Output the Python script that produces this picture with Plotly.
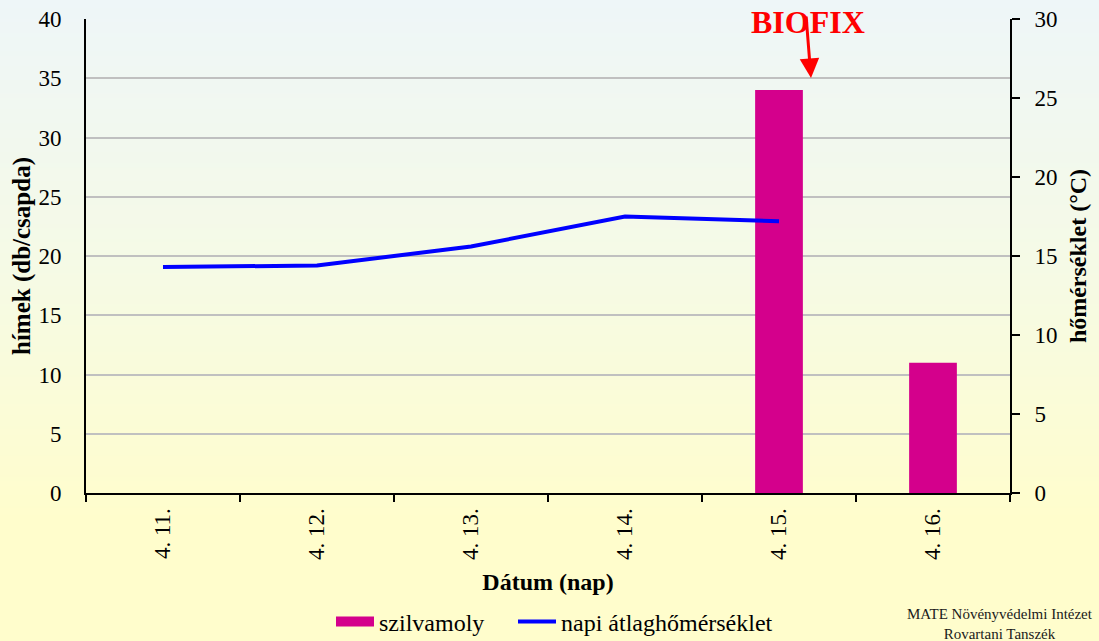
import base64
import struct
import zlib

import plotly.graph_objects as go

# Daily trap data
dates = ["4. 11.", "4. 12.", "4. 13.", "4. 14.", "4. 15.", "4. 16."]
moth_counts = [0, 0, 0, 0, 34, 11]
temp_dates = ["4. 11.", "4. 12.", "4. 13.", "4. 14.", "4. 15."]
mean_temps = [14.3, 14.4, 15.6, 17.5, 17.2]

W, H = 1099, 641
M_L, M_R, M_T, M_B = 86, 89, 19, 148
PW, PH = W - M_L - M_R, H - M_T - M_B

FONT = "Liberation Serif, Times New Roman, serif"
BAR_COLOR = "#d4008c"
LINE_COLOR = "#0000ff"


def gradient_png(height, stops):
    """Build a 1-pixel-wide vertical gradient PNG as a data URI."""
    rows = b""
    for yy in range(height):
        for i in range(len(stops) - 1):
            y0, c0 = stops[i]
            y1, c1 = stops[i + 1]
            if y0 <= yy <= y1:
                t = 0 if y1 == y0 else (yy - y0) / (y1 - y0)
                c = [round(a + (b - a) * t) for a, b in zip(c0, c1)]
                break
        rows += b"\x00" + bytes(c)

    def chunk(tag, data):
        body = tag + data
        return struct.pack(">I", len(data)) + body + struct.pack(">I", zlib.crc32(body) & 0xFFFFFFFF)

    png = b"\x89PNG\r\n\x1a\n"
    png += chunk(b"IHDR", struct.pack(">IIBBBBB", 1, height, 8, 2, 0, 0, 0))
    png += chunk(b"IDAT", zlib.compress(rows))
    png += chunk(b"IEND", b"")
    return "data:image/png;base64," + base64.b64encode(png).decode()


bg = gradient_png(H, [(0, (238, 246, 248)), (260, (245, 250, 230)),
                      (520, (255, 253, 204)), (H - 1, (255, 253, 204))])


def py(px_y):
    """Figure pixel row -> paper y."""
    return (H - M_B - px_y) / PH


def px(px_x):
    """Figure pixel column -> paper x."""
    return (px_x - M_L) / PW


fig = go.Figure()

fig.add_trace(go.Bar(
    x=dates, y=moth_counts, name="szilvamoly",
    marker=dict(color=BAR_COLOR, line=dict(width=0)),
    width=0.31, yaxis="y", showlegend=False,
))

# Legend key for the bars drawn as a wide rectangle-like stroke
fig.add_trace(go.Scatter(
    x=[None], y=[None], name="szilvamoly", mode="lines",
    line=dict(color=BAR_COLOR, width=10), yaxis="y", legend="legend",
))

fig.add_trace(go.Scatter(
    x=temp_dates, y=mean_temps, name="napi átlaghőmérséklet",
    mode="lines", line=dict(color=LINE_COLOR, width=4),
    yaxis="y2", legend="legend2",
))

legend_common = dict(
    orientation="h", xanchor="left", y=py(622), yanchor="middle",
    font=dict(family=FONT, size=24), bgcolor="rgba(0,0,0,0)", itemwidth=38,
)

fig.update_layout(
    width=W, height=H,
    margin=dict(l=M_L, r=M_R, t=M_T, b=M_B, autoexpand=False),
    paper_bgcolor="#fffdcc",
    plot_bgcolor="rgba(0,0,0,0)",
    font=dict(family=FONT, color="black", size=23),
    images=[dict(
        source=bg, xref="paper", yref="paper",
        x=-M_L / PW, y=1 + M_T / PH, sizex=W / PW, sizey=H / PH,
        xanchor="left", yanchor="top", sizing="stretch", layer="below",
    )],
    xaxis=dict(
        type="category", range=[-0.5, 5.5], automargin=False,
        showline=True, linecolor="black", linewidth=2,
        ticks="outside", tickson="boundaries", ticklen=7,
        tickwidth=2, tickcolor="black",
        tickangle=-90, tickfont=dict(family=FONT, size=23),
        ticklabelstandoff=4,
        showgrid=False,
        title=dict(text="<b>Dátum (nap)</b>", font=dict(family=FONT, size=24), standoff=14),
    ),
    yaxis=dict(
        range=[0, 40], dtick=5, automargin=False,
        showline=True, linecolor="black", linewidth=2,
        showgrid=True, gridcolor="#c0c0c0", gridwidth=2,
        zeroline=False,
        ticks="", ticklabelstandoff=18,
        tickfont=dict(family=FONT, size=23),
        title=dict(text="<b>hímek (db/csapda)</b>", font=dict(family=FONT, size=25), standoff=1),
    ),
    yaxis2=dict(
        range=[0, 30], dtick=5, overlaying="y", side="right", automargin=False,
        showline=True, linecolor="black", linewidth=2,
        showgrid=False, zeroline=False,
        ticks="outside", ticklen=8, tickwidth=2, tickcolor="black",
        ticklabelstandoff=10,
        tickfont=dict(family=FONT, size=23),
        title=dict(text="<b>hőmérséklet (°C)</b>", font=dict(family=FONT, size=24), standoff=13),
    ),
    legend=dict(x=px(331), **legend_common),
    legend2=dict(x=px(513), **legend_common),
    showlegend=True,
)

# BIOFIX marker above the 4. 15. peak
fig.add_annotation(
    xref="paper", yref="paper",
    x=px(808), y=py(22),
    text="<b>BIOFIX</b>", showarrow=False,
    font=dict(family=FONT, size=32, color="#ff0000"),
    xanchor="center", yanchor="middle",
)
fig.add_annotation(
    xref="paper", yref="paper",
    x=px(811), y=py(78),
    ax=-5, ay=-63, showarrow=True,
    arrowhead=2, arrowsize=1.3, arrowwidth=3, arrowcolor="#ff0000", text="",
)

# Source note in the lower right corner
fig.add_annotation(
    xref="paper", yref="paper",
    x=px(1095), y=py(624),
    text="MATE Növényvédelmi Intézet<br>Rovartani Tanszék",
    showarrow=False, xanchor="right", yanchor="middle", align="center",
    font=dict(family=FONT, size=15, color="#1a1a1a"),
)

fig.write_html("out.html")
